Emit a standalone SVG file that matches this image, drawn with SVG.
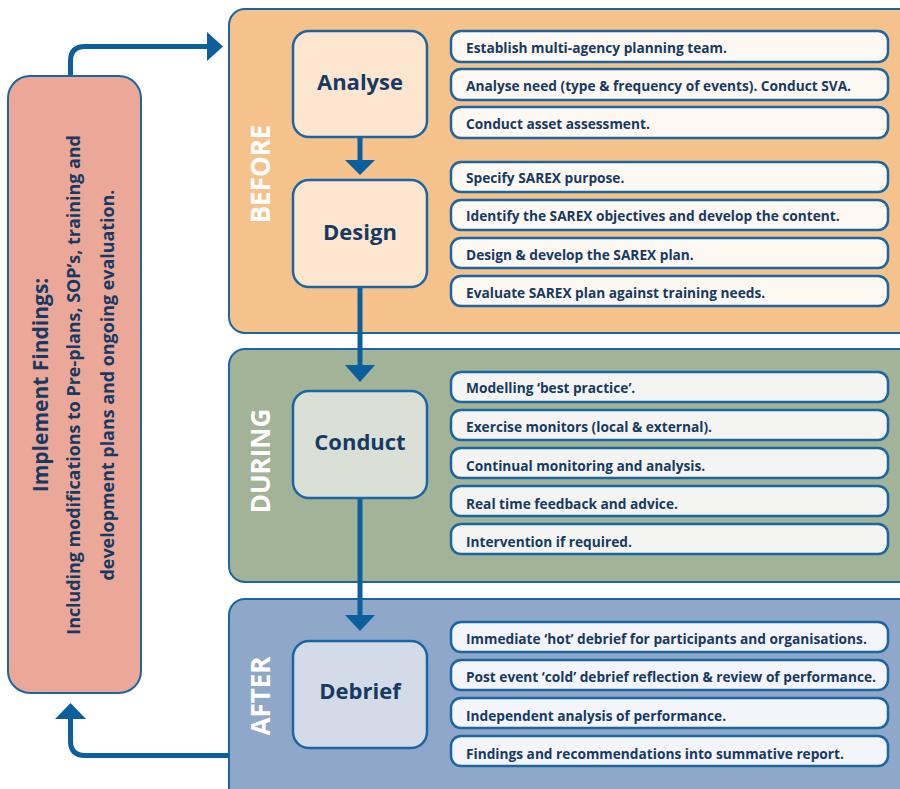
<svg xmlns="http://www.w3.org/2000/svg" width="900" height="789" viewBox="0 0 900 789">
  <style>
    .panel { stroke: #1b66a2; stroke-width: 2; }
    .before { fill: #f6c28b; }
    .during { fill: #a2b397; }
    .after { fill: #8fa8c9; }
    .step { stroke: #1b66a2; stroke-width: 2.5; }
    .item { stroke: #1b66a2; stroke-width: 2.5; }
    .item-before { fill: #fdf8f2; }
    .item-during { fill: #f4f5f2; }
    .item-after { fill: #f3f5fa; }
    .txt { font-family: "Open Sans", "Liberation Sans", sans-serif; font-weight: bold; fill: #163a63; }
    .itemtxt { font-size: 13.7px; dominant-baseline: central; }
    .steptxt { font-size: 22px; text-anchor: middle; dominant-baseline: central; }
    .phase { font-family: "Open Sans", "Liberation Sans", sans-serif; font-weight: bold; font-size: 26px; fill: #ffffff; text-anchor: middle; dominant-baseline: central; }
    .conn { fill: none; stroke: #0b5f9d; stroke-width: 5; }
    .head { fill: #0b5f9d; }
  </style>

  <!-- Phase panels -->
  <g id="phase-before">
    <rect class="panel before" x="229" y="9" width="690" height="324" rx="16"/>
    <text class="phase" transform="translate(260 174) rotate(-90)">BEFORE</text>
  </g>
  <g id="phase-during">
    <rect class="panel during" x="229" y="349" width="690" height="233" rx="16"/>
    <text class="phase" transform="translate(260 461) rotate(-90)">DURING</text>
  </g>
  <g id="phase-after">
    <rect class="panel after" x="229" y="599" width="690" height="210" rx="16"/>
    <text class="phase" transform="translate(260 696) rotate(-90)">AFTER</text>
  </g>

  <!-- Connectors -->
  <g id="connectors">
    <path class="conn" d="M70.5 76 V61 Q70.5 46.5 85 46.5 H209"/>
    <polygon class="head" points="207,32 223,46.5 207,61"/>
    <path class="conn" d="M229 755.5 H85 Q70.5 755.5 70.5 741 V717"/>
    <polygon class="head" points="55,719 70.5,703 86,719"/>
    <line class="conn" x1="360" y1="137" x2="360" y2="162"/>
    <polygon class="head" points="345,160 360,175 375,160"/>
    <line class="conn" x1="360" y1="287" x2="360" y2="367"/>
    <polygon class="head" points="345,365 360,382 375,365"/>
    <line class="conn" x1="360" y1="498" x2="360" y2="617"/>
    <polygon class="head" points="345,615 360,631 375,615"/>
  </g>

  <!-- Feedback node -->
  <g id="implement-findings">
    <rect x="8" y="76" width="133" height="617" rx="22" fill="#eba898" stroke="#1b66a2" stroke-width="2"/>
    <g transform="translate(0 385) rotate(-90)">
      <text class="txt" x="0" y="40" font-size="21" text-anchor="middle" dominant-baseline="central">Implement Findings:</text>
      <text class="txt" x="0" y="73" font-size="17.9" text-anchor="middle" dominant-baseline="central">Including modifications to Pre-plans, SOP’s, training and</text>
      <text class="txt" x="0" y="107" font-size="17.9" text-anchor="middle" dominant-baseline="central">development plans and ongoing evaluation.</text>
    </g>
  </g>

  <!-- Step nodes -->
  <g id="analyse">
    <rect class="step" x="293" y="31" width="134" height="106" rx="16" fill="#fde6d0"/>
    <text class="txt steptxt" x="360" y="81">Analyse</text>
  </g>
  <g id="design">
    <rect class="step" x="293" y="180" width="134" height="107" rx="16" fill="#fde6d0"/>
    <text class="txt steptxt" x="360" y="231">Design</text>
  </g>
  <g id="conduct">
    <rect class="step" x="293" y="391" width="134" height="107" rx="16" fill="#dbe0d6"/>
    <text class="txt steptxt" x="360" y="441">Conduct</text>
  </g>
  <g id="debrief">
    <rect class="step" x="293" y="641" width="134" height="107" rx="16" fill="#d3dbe8"/>
    <text class="txt steptxt" x="360" y="690">Debrief</text>
  </g>

  <!-- Activity items: Analyse -->
  <g id="analyse-items">
    <rect class="item item-before" x="451" y="31" width="437" height="31" rx="10"/>
    <text class="txt itemtxt" x="466" y="47">Establish multi-agency planning team.</text>
    <rect class="item item-before" x="451" y="69" width="437" height="31" rx="10"/>
    <text class="txt itemtxt" x="466" y="85">Analyse need (type &amp; frequency of events). Conduct SVA.</text>
    <rect class="item item-before" x="451" y="107" width="437" height="31" rx="10"/>
    <text class="txt itemtxt" x="466" y="123">Conduct asset assessment.</text>
  </g>

  <!-- Activity items: Design -->
  <g id="design-items">
    <rect class="item item-before" x="451" y="162" width="437" height="30" rx="10"/>
    <text class="txt itemtxt" x="466" y="177">Specify SAREX purpose.</text>
    <rect class="item item-before" x="451" y="200" width="437" height="30" rx="10"/>
    <text class="txt itemtxt" x="466" y="215">Identify the SAREX objectives and develop the content.</text>
    <rect class="item item-before" x="451" y="238" width="437" height="30" rx="10"/>
    <text class="txt itemtxt" x="466" y="254">Design &amp; develop the SAREX plan.</text>
    <rect class="item item-before" x="451" y="276" width="437" height="30" rx="10"/>
    <text class="txt itemtxt" x="466" y="292">Evaluate SAREX plan against training needs.</text>
  </g>

  <!-- Activity items: Conduct -->
  <g id="conduct-items">
    <rect class="item item-during" x="451" y="372" width="437" height="30" rx="10"/>
    <text class="txt itemtxt" x="466" y="387">Modelling ‘best practice’.</text>
    <rect class="item item-during" x="451" y="410" width="437" height="30" rx="10"/>
    <text class="txt itemtxt" x="466" y="426">Exercise monitors (local &amp; external).</text>
    <rect class="item item-during" x="451" y="448" width="437" height="30" rx="10"/>
    <text class="txt itemtxt" x="466" y="465">Continual monitoring and analysis.</text>
    <rect class="item item-during" x="451" y="486" width="437" height="30" rx="10"/>
    <text class="txt itemtxt" x="466" y="503">Real time feedback and advice.</text>
    <rect class="item item-during" x="451" y="524" width="437" height="30" rx="10"/>
    <text class="txt itemtxt" x="466" y="541">Intervention if required.</text>
  </g>

  <!-- Activity items: Debrief -->
  <g id="debrief-items">
    <rect class="item item-after" x="451" y="622" width="437" height="30" rx="10"/>
    <text class="txt itemtxt" x="466" y="638">Immediate ‘hot’ debrief for participants and organisations.</text>
    <rect class="item item-after" x="451" y="660" width="437" height="30" rx="10"/>
    <text class="txt itemtxt" x="466" y="676">Post event ‘cold’ debrief reflection &amp; review of performance.</text>
    <rect class="item item-after" x="451" y="698" width="437" height="30" rx="10"/>
    <text class="txt itemtxt" x="466" y="715">Independent analysis of performance.</text>
    <rect class="item item-after" x="451" y="736" width="437" height="30" rx="10"/>
    <text class="txt itemtxt" x="466" y="753">Findings and recommendations into summative report.</text>
  </g>
</svg>
